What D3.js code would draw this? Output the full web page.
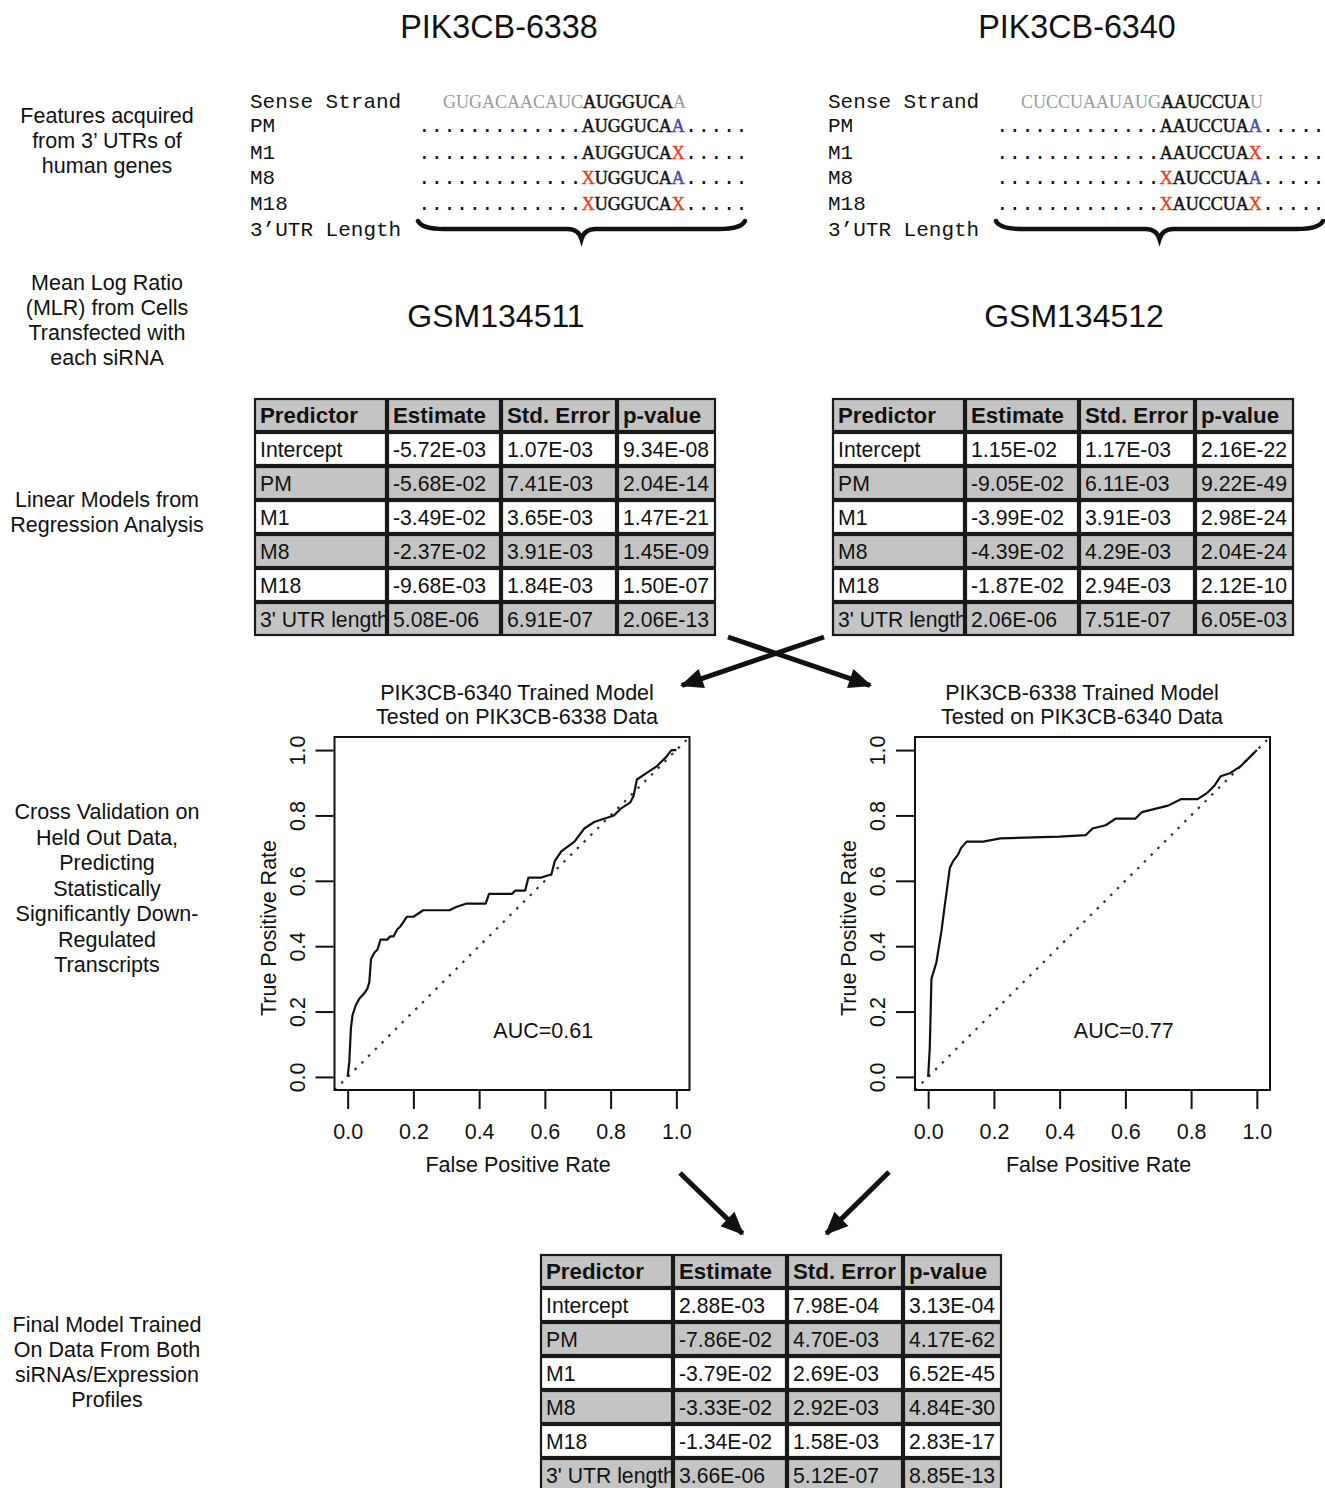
<!DOCTYPE html>
<html><head><meta charset="utf-8">
<script src="https://cdn.jsdelivr.net/npm/d3@7"></script>
<style>body{margin:0;background:#fff}</style>
</head><body><svg id="c" width="1325" height="1488"></svg>
<script>
// ---------- data ----------
const sirnaTitles = ["PIK3CB-6338", "PIK3CB-6340"];
const gsmTitles = ["GSM134511", "GSM134512"];
const seqRowLabels = ["Sense Strand", "PM", "M1", "M8", "M18", "3\u2019UTR Length"];
const senseFlank5 = ["GUGACAACAUC", "CUCCUAAUAUG"];
const senseSeed = ["AUGGUCA", "AAUCCUA"];
const senseFlank3 = ["A", "U"];
const seedFirst = ["A", "A"];
const seedCore = ["UGGUCA", "AUCCUA"];
const siteKinds = ["PM", "M1", "M8", "M18"];
const pos8Mismatch = [false, false, true, true];
const pos1Mismatch = [false, true, false, true];

const sideLabelGroups = [
  ["Features acquired", "from 3\u2019 UTRs of", "human genes"],
  ["Mean Log Ratio", "(MLR) from Cells", "Transfected with", "each siRNA"],
  ["Linear Models from", "Regression Analysis"],
  ["Cross Validation on", "Held Out Data,", "Predicting", "Statistically", "Significantly Down-", "Regulated", "Transcripts"],
  ["Final Model Trained", "On Data From Both", "siRNAs/Expression", "Profiles"]
];

const tableHeaders = ["Predictor", "Estimate", "Std. Error", "p-value"];
const predictors = ["Intercept", "PM", "M1", "M8", "M18", "3' UTR length"];
const est6338 = ["-5.72E-03", "-5.68E-02", "-3.49E-02", "-2.37E-02", "-9.68E-03", "5.08E-06"];
const se6338  = ["1.07E-03", "7.41E-03", "3.65E-03", "3.91E-03", "1.84E-03", "6.91E-07"];
const p6338   = ["9.34E-08", "2.04E-14", "1.47E-21", "1.45E-09", "1.50E-07", "2.06E-13"];
const est6340 = ["1.15E-02", "-9.05E-02", "-3.99E-02", "-4.39E-02", "-1.87E-02", "2.06E-06"];
const se6340  = ["1.17E-03", "6.11E-03", "3.91E-03", "4.29E-03", "2.94E-03", "7.51E-07"];
const p6340   = ["2.16E-22", "9.22E-49", "2.98E-24", "2.04E-24", "2.12E-10", "6.05E-03"];
const estBoth = ["2.88E-03", "-7.86E-02", "-3.79E-02", "-3.33E-02", "-1.34E-02", "3.66E-06"];
const seBoth  = ["7.98E-04", "4.70E-03", "2.69E-03", "2.92E-03", "1.58E-03", "5.12E-07"];
const pBoth   = ["3.13E-04", "4.17E-62", "6.52E-45", "4.84E-30", "2.83E-17", "8.85E-13"];

const rocTitles = [["PIK3CB-6340 Trained Model", "Tested on PIK3CB-6338 Data"],
                   ["PIK3CB-6338 Trained Model", "Tested on PIK3CB-6340 Data"]];
const aucLabels = ["AUC=0.61", "AUC=0.77"];
const axisTicks = [0, 0.2, 0.4, 0.6, 0.8, 1.0];
// ROC points [FPR, TPR]
const roc6340on6338 = [[0,0],[0.005,0.046],[0.01,0.15],[0.015,0.19],[0.025,0.22],[0.036,0.24],[0.05,0.255],
  [0.06,0.27],[0.066,0.29],[0.071,0.36],[0.081,0.38],[0.091,0.39],[0.10,0.42],[0.12,0.42],[0.13,0.43],
  [0.14,0.43],[0.15,0.45],[0.16,0.46],[0.18,0.49],[0.20,0.49],[0.23,0.51],[0.31,0.51],[0.33,0.52],
  [0.36,0.53],[0.42,0.53],[0.43,0.56],[0.50,0.56],[0.51,0.57],[0.54,0.57],[0.55,0.61],[0.59,0.61],
  [0.62,0.62],[0.63,0.66],[0.65,0.69],[0.69,0.72],[0.72,0.76],[0.75,0.78],[0.78,0.79],[0.81,0.80],
  [0.83,0.82],[0.86,0.84],[0.87,0.86],[0.88,0.91],[0.91,0.93],[0.94,0.95],[0.97,0.98],[0.985,1.0],[1,1]];
const roc6338on6340 = [[0,0],[0.005,0.09],[0.01,0.30],[0.025,0.35],[0.041,0.45],[0.05,0.52],[0.066,0.64],
  [0.076,0.66],[0.091,0.68],[0.10,0.70],[0.117,0.72],[0.167,0.72],[0.22,0.73],[0.40,0.735],[0.48,0.74],
  [0.50,0.76],[0.54,0.77],[0.57,0.79],[0.63,0.79],[0.65,0.81],[0.69,0.82],[0.73,0.83],[0.77,0.85],
  [0.82,0.85],[0.85,0.87],[0.87,0.89],[0.89,0.92],[0.92,0.93],[0.95,0.95],[0.98,0.98],[1,1]];

// ---------- drawing ----------
const svg = d3.select("#c");
const SANS = "Liberation Sans, Arial, Helvetica, sans-serif";
const MONO = "Liberation Mono, Courier New, monospace";
const SERIF = "Liberation Serif, Times New Roman, serif";
const GREY_TXT = "#9a9a9a", BLUE = "#4a4aa8", RED = "#e8401c", CELL_GREY = "#c4c4c4";
const FS = 21.5;

// side labels
const sideStarts = [116, 283, 500, 812, 1325];
const sideLH = [25, 25, 25, 25.5, 25];
sideLabelGroups.forEach((g, gi) => {
  svg.append("g").selectAll("text").data(g).join("text")
    .attr("x", 107).attr("y", (d, i) => sideStarts[gi] + i * sideLH[gi] + 7)
    .attr("text-anchor", "middle").attr("font-family", SANS).attr("font-size", FS)
    .attr("fill", "#111").text(d => d);
});

// semi-bold letter helper (regular serif + thin outline)
function letters(t, txt, col) {
  t.append("tspan").attr("font-family", SERIF).attr("fill", col)
    .attr("stroke", col).attr("stroke-width", 0.45).text(txt);
}

// column-level content
const colOffset = [0, 578];
sirnaTitles.forEach((t, k) => {
  const dx = colOffset[k];
  svg.append("text").attr("x", 499 + dx).attr("y", 38).attr("text-anchor", "middle")
    .attr("font-family", SANS).attr("font-size", 32.3).attr("fill", "#111").text(t);
  svg.append("text").attr("x", 496 + dx).attr("y", 327).attr("text-anchor", "middle")
    .attr("font-family", SANS).attr("font-size", 32).attr("fill", "#111").text(gsmTitles[k]);

  const rowY = [108, 132, 159, 184, 210, 236];
  svg.append("g").selectAll("text").data(seqRowLabels).join("text")
    .attr("x", 250 + dx).attr("y", (d, i) => rowY[i])
    .attr("font-family", MONO).attr("font-size", 21).attr("fill", "#111").text(d => d);
  const s = svg.append("text").attr("x", 443 + dx).attr("y", rowY[0])
    .attr("font-family", SERIF).attr("font-size", 18);
  s.append("tspan").attr("fill", GREY_TXT).text(senseFlank5[k]);
  letters(s, senseSeed[k], "#111");
  s.append("tspan").attr("fill", GREY_TXT).text(senseFlank3[k]);
  siteKinds.forEach((kind, r) => {
    const t = svg.append("text").attr("x", 418 + dx).attr("y", rowY[r + 1]).attr("font-size", 18);
    t.append("tspan").attr("font-family", MONO).attr("font-size", 21).attr("fill", "#111").text(".............");
    letters(t, pos8Mismatch[r] ? "X" : seedFirst[k], pos8Mismatch[r] ? RED : "#111");
    letters(t, seedCore[k], "#111");
    letters(t, pos1Mismatch[r] ? "X" : "A", pos1Mismatch[r] ? RED : BLUE);
    t.append("tspan").attr("font-family", MONO).attr("font-size", 21).attr("fill", "#111").text(".....");
  });
  const x1 = 418 + dx, x2 = 745 + dx, mid = (x1 + x2) / 2, y0 = 221, y1 = 229, y2 = 239;
  svg.append("path")
    .attr("d", `M${x1},${y0} Q${x1 + 4},${y1} ${x1 + 26},${y1} L${mid - 14},${y1} Q${mid - 3},${y1} ${mid},${y2} Q${mid + 3},${y1} ${mid + 14},${y1} L${x2 - 26},${y1} Q${x2 - 4},${y1} ${x2},${y0}`)
    .attr("fill", "none").attr("stroke", "#111").attr("stroke-width", 4.5).attr("stroke-linecap", "round");
});

// tables
const colW = [133, 114, 116, 99], rowH = 34;
function drawTable(x0, y0, est, se, pv) {
  const g = svg.append("g");
  const rows = [tableHeaders].concat(predictors.map((p, i) => [p, est[i], se[i], pv[i]]));
  const colX = [0];
  colW.forEach((w, i) => colX.push(colX[i] + w));
  const cells = [];
  rows.forEach((row, r) => row.forEach((txt, c) => cells.push({ r, c, txt })));
  g.selectAll("rect.f").data(cells).join("rect").attr("class", "f")
    .attr("x", d => x0 + colX[d.c]).attr("y", d => y0 + d.r * rowH)
    .attr("width", d => colW[d.c]).attr("height", rowH)
    .attr("fill", d => (d.r % 2 === 0) ? CELL_GREY : "#fff");
  g.selectAll("text").data(cells).join("text")
    .attr("x", d => x0 + colX[d.c] + 6).attr("y", d => y0 + d.r * rowH + 25)
    .attr("font-family", SANS).attr("font-size", d => d.r === 0 ? 22.3 : 21.2)
    .attr("font-weight", d => d.r === 0 ? "bold" : "normal")
    .attr("fill", "#111").text(d => d.txt);
  g.selectAll("rect.b").data(cells).join("rect").attr("class", "b")
    .attr("x", d => x0 + colX[d.c] + 1).attr("y", d => y0 + d.r * rowH + 1)
    .attr("width", d => colW[d.c] - 2).attr("height", rowH - 2)
    .attr("fill", "none").attr("stroke", "#1a1a1a").attr("stroke-width", 2.2);
}
drawTable(254, 398, est6338, se6338, p6338);
drawTable(832, 398, est6340, se6340, p6340);
drawTable(540, 1254, estBoth, seBoth, pBoth);

// arrows
const defs = svg.append("defs");
defs.append("marker").attr("id", "ah").attr("markerUnits", "userSpaceOnUse")
  .attr("viewBox", "-24 -12 27 24").attr("refX", 0).attr("refY", 0)
  .attr("markerWidth", 27).attr("markerHeight", 24).attr("orient", "auto")
  .append("path").attr("d", "M2,0 L-21,-10 L-21,10 Z").attr("fill", "#111");
const arrows = [[728, 637, 872, 686], [824, 637, 680, 686], [680, 1173, 744, 1235], [889, 1172, 825, 1235]];
arrows.forEach(([ax, ay, bx, by]) => {
  const L = Math.hypot(bx - ax, by - ay), ux = (bx - ax) / L, uy = (by - ay) / L;
  svg.append("line").attr("x1", ax).attr("y1", ay).attr("x2", bx - ux * 2).attr("y2", by - uy * 2)
    .attr("stroke", "#111").attr("stroke-width", 5).attr("marker-end", "url(#ah)");
});

// ROC plots
const plotBoxes = [{ l: 334.5, r: 689.5 }, { l: 915, r: 1270 }];
const rocData = [roc6340on6338, roc6338on6340];
const titleCx = [517, 1082];
const boxTop = 737, boxBottom = 1090;
plotBoxes.forEach((b, k) => {
  const x = d3.scaleLinear().domain([-0.04, 1.04]).range([b.l, b.r]);
  const y = d3.scaleLinear().domain([-0.04, 1.04]).range([boxBottom, boxTop]);
  const g = svg.append("g");
  rocTitles[k].forEach((t, i) => g.append("text").attr("x", titleCx[k]).attr("y", 700 + i * 24)
    .attr("text-anchor", "middle").attr("font-family", SANS).attr("font-size", FS).attr("fill", "#111").text(t));
  g.append("path").datum([[-0.04, -0.04], [1.04, 1.04]])
    .attr("d", d3.line().x(d => x(d[0])).y(d => y(d[1])))
    .attr("stroke", "#333").attr("stroke-width", 2.2).attr("stroke-dasharray", "2.5,7").attr("fill", "none");
  g.append("path").datum(rocData[k])
    .attr("d", d3.line().x(d => x(d[0])).y(d => y(d[1])))
    .attr("stroke", "#111").attr("stroke-width", 2.2).attr("fill", "none").attr("stroke-linejoin", "round");
  g.append("rect").attr("x", b.l).attr("y", boxTop).attr("width", b.r - b.l).attr("height", boxBottom - boxTop)
    .attr("fill", "none").attr("stroke", "#111").attr("stroke-width", 2);
  const xa = g.append("g").attr("transform", `translate(0,${boxBottom + 1})`)
    .call(d3.axisBottom(x).tickValues(axisTicks).tickFormat(d3.format(".1f")).tickSize(18).tickSizeOuter(0).tickPadding(15));
  xa.select(".domain").remove();
  xa.selectAll("line").attr("stroke", "#111").attr("stroke-width", 2);
  xa.selectAll("text").attr("font-family", SANS).attr("font-size", FS).attr("fill", "#111");
  const ya = g.append("g").attr("transform", `translate(${b.l - 1},0)`)
    .call(d3.axisLeft(y).tickValues(axisTicks).tickFormat(d3.format(".1f")).tickSize(18).tickSizeOuter(0));
  ya.select(".domain").remove();
  ya.selectAll("line").attr("stroke", "#111").attr("stroke-width", 2);
  ya.selectAll("text").attr("font-family", SANS).attr("font-size", FS).attr("fill", "#111")
    .attr("x", 0).attr("y", -29).attr("dy", 0).attr("transform", "rotate(-90)").attr("text-anchor", "middle");
  g.append("text").attr("x", (b.l + b.r) / 2 + 6).attr("y", 1172).attr("text-anchor", "middle")
    .attr("font-family", SANS).attr("font-size", FS).attr("fill", "#111").text("False Positive Rate");
  g.append("text").attr("transform", `translate(${b.l - 59},928) rotate(-90)`).attr("text-anchor", "middle")
    .attr("font-family", SANS).attr("font-size", FS).attr("fill", "#111").text("True Positive Rate");
  g.append("text").attr("x", x(0.595)).attr("y", y(0.14) + 7).attr("text-anchor", "middle")
    .attr("font-family", SANS).attr("font-size", FS).attr("fill", "#111").text(aucLabels[k]);
});
</script></body></html>
